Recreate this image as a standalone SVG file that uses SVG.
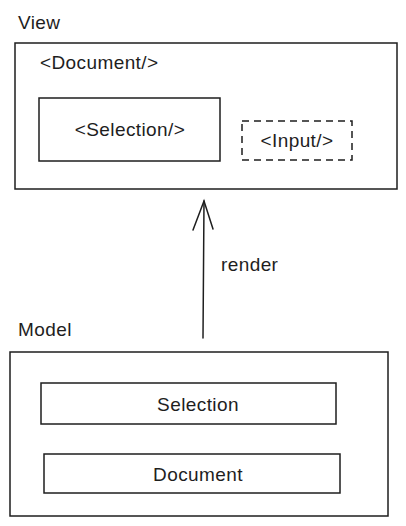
<svg xmlns="http://www.w3.org/2000/svg" width="406" height="526" viewBox="0 0 406 526">
<style>
  .box{fill:#fff;stroke:#1e1e1e;stroke-width:1.5}
  .dash{fill:none;stroke:#1e1e1e;stroke-width:1.5;stroke-dasharray:7 5}
  .t{font-family:"Liberation Sans",Arial,sans-serif;font-size:19px;letter-spacing:0.4px;fill:#1e1e1e}
  .m{text-anchor:middle}
  .line{fill:none;stroke:#1e1e1e;stroke-width:1.5;stroke-linecap:round}
</style>
<rect width="406" height="526" fill="#fff"/>
<g id="view">
  <text class="t" x="18" y="29">View</text>
  <rect class="box" x="15" y="43" width="382" height="146"/>
  <text class="t" x="40" y="69">&lt;Document/&gt;</text>
</g>
<g id="view-selection">
  <rect class="box" x="39" y="98" width="181" height="63"/>
  <text class="t m" x="130" y="136">&lt;Selection/&gt;</text>
</g>
<g id="view-input">
  <rect class="dash" x="242" y="121" width="110" height="39"/>
  <text class="t m" x="297" y="147">&lt;Input/&gt;</text>
</g>
<g id="model">
  <text class="t" x="18" y="336">Model</text>
  <rect class="box" x="10" y="352" width="378" height="164"/>
</g>
<g id="model-selection">
  <rect class="box" x="41" y="383" width="295" height="41"/>
  <text class="t m" x="198" y="411">Selection</text>
</g>
<g id="model-document">
  <rect class="box" x="44" y="454" width="296" height="39"/>
  <text class="t m" x="198" y="481">Document</text>
</g>
<g id="connectors">
  <path class="line" d="M203 338 L204 201"/>
  <path class="line" d="M193 230 L204 201 L213 229"/>
  <text class="t" x="221" y="271">render</text>
</g>
</svg>
